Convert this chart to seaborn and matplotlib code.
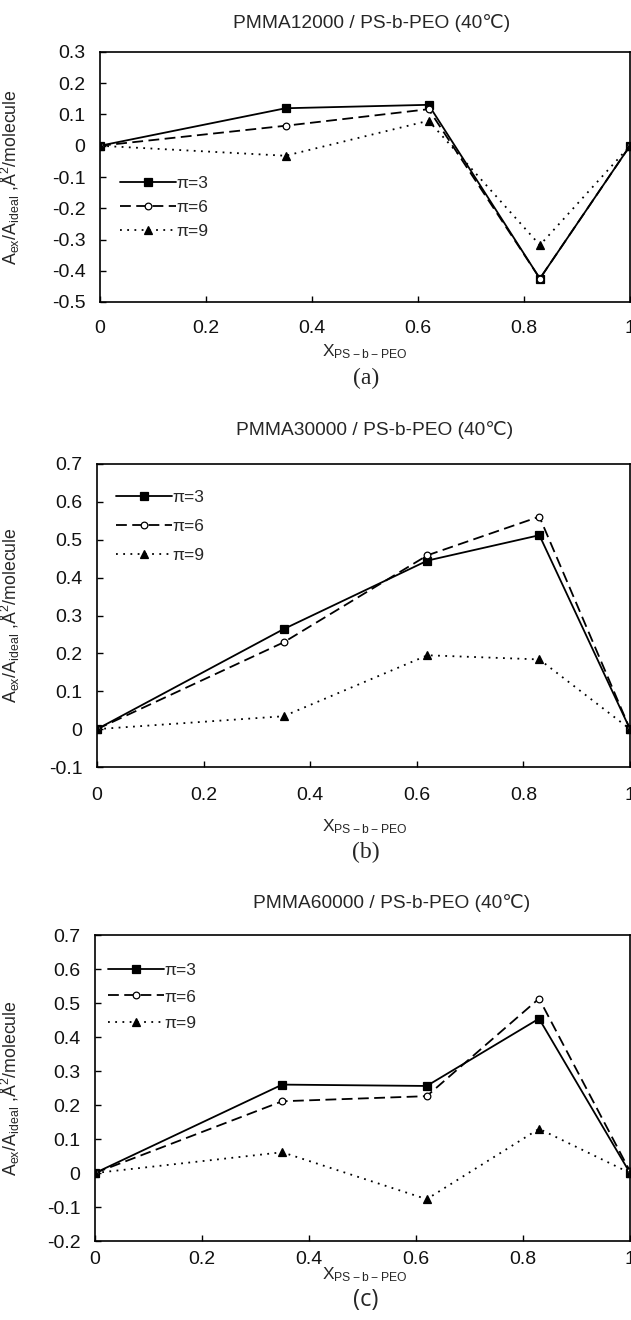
import numpy as np
import pandas as pd
import matplotlib
matplotlib.use("Agg")
import matplotlib.pyplot as plt
import seaborn as sns
from matplotlib.ticker import FuncFormatter, MultipleLocator

# mole fraction of PS-b-PEO
x_frac = [0, 0.35, 0.62, 0.83, 1.0]
pressures = ["π=3", "π=6", "π=9"]

# PMMA12000 / PS-b-PEO
a_pi3 = [0, 0.120, 0.131, -0.425, 0]
a_pi6 = [0, 0.064, 0.117, -0.425, 0]
a_pi9 = [0, -0.032, 0.080, -0.318, 0]

# PMMA30000 / PS-b-PEO
b_pi3 = [0, 0.264, 0.445, 0.512, 0]
b_pi6 = [0, 0.229, 0.459, 0.561, 0]
b_pi9 = [0, 0.034, 0.195, 0.184, 0]

# PMMA60000 / PS-b-PEO
c_pi3 = [0, 0.260, 0.256, 0.454, 0]
c_pi6 = [0, 0.211, 0.226, 0.513, 0.005]
c_pi9 = [0, 0.061, -0.077, 0.130, 0]

titles = ["PMMA12000 / PS-b-PEO (40℃)", "PMMA30000 / PS-b-PEO (40℃)",
          "PMMA60000 / PS-b-PEO (40℃)"]
tags = ["(a)", "(b)", "(c)"]

sns.set_style("ticks")
plt.rcParams["font.family"] = ["Liberation Sans", "DejaVu Sans"]
plt.rcParams["mathtext.default"] = "regular"
plt.rcParams["axes.unicode_minus"] = False

W, H = 631, 1320
fig = plt.figure(figsize=(W / 100, H / 100), dpi=100)


def px_axes(left, right, top, bottom):
    return fig.add_axes([left / W, 1 - bottom / H, (right - left) / W, (bottom - top) / H])


styles = [
    dict(marker="s", linestyle="-", markersize=5.5, markerfacecolor="black"),
    dict(marker="o", linestyle=(0, (6, 3)), markersize=4.8, markerfacecolor="white"),
    dict(marker="^", linestyle=(0, (1, 3)), markersize=6, markerfacecolor="black"),
]

panels = [
    dict(data=[a_pi3, a_pi6, a_pi9], box=(100, 630, 52, 302), ylim=(-0.5, 0.3),
         title_xy=(372, 23), xlab_y=352, tag_y=378, xpad=13,
         leg=(121, 181), lspace=0.5),
    dict(data=[b_pi3, b_pi6, b_pi9], box=(97, 630, 464, 767), ylim=(-0.1, 0.7),
         title_xy=(375, 430), xlab_y=827, tag_y=852, xpad=14.5,
         leg=(117, 495), lspace=0.8),
    dict(data=[c_pi3, c_pi6, c_pi9], box=(95, 630, 935, 1241), ylim=(-0.2, 0.7),
         title_xy=(392, 903), xlab_y=1275, tag_y=1300, xpad=7,
         leg=(109, 968), lspace=0.65),
]

for i, p in enumerate(panels):
    left, right, top, bottom = p["box"]
    ax = px_axes(left, right, top, bottom)
    for vals, lab, st in zip(p["data"], pressures, styles):
        df = pd.DataFrame({"x": x_frac, "y": vals})
        sns.lineplot(data=df, x="x", y="y", ax=ax, color="black", lw=1.3,
                     markeredgecolor="black", markeredgewidth=0.9, label=lab, **st)
    ax.set_xlim(0, 1)
    ax.set_ylim(*p["ylim"])
    ax.xaxis.set_major_locator(MultipleLocator(0.2))
    ax.yaxis.set_major_locator(MultipleLocator(0.1))
    fmt = FuncFormatter(lambda v, pos: "%g" % round(v, 2))
    ax.xaxis.set_major_formatter(fmt)
    ax.yaxis.set_major_formatter(fmt)
    ax.tick_params(axis="both", direction="in", length=4, width=1, labelsize=14,
                   color="black", labelcolor="#111111")
    ax.tick_params(axis="x", pad=p["xpad"])
    ax.tick_params(axis="y", pad=10.5)
    for s in ax.spines.values():
        s.set_linewidth(1.2)
        s.set_color("black")
    ax.set_xlabel("")
    ax.set_ylabel(r"$A_{ex}/A_{ideal}$ ,Å$^2$/molecule", fontsize=12.8)
    ax.yaxis.set_label_coords((22 - left) / (right - left), 0.5)

    lx, ly = p["leg"]
    ax.legend(loc="upper left", frameon=False, fontsize=12.5,
              bbox_to_anchor=((lx - left - 8) / (right - left), 1 - (ly - top - 12) / (bottom - top)),
              handlelength=3.2, handletextpad=0.05, labelspacing=p["lspace"],
              numpoints=1, borderaxespad=0)

    fig.text(p["title_xy"][0] / W, 1 - p["title_xy"][1] / H, titles[i],
             ha="center", va="center", fontsize=13.8)
    fig.text(365 / W, 1 - p["xlab_y"] / H, r"X$_{PS-b-PEO}$",
             ha="center", va="center", fontsize=12.5)
    tag_font = ["Liberation Serif", "DejaVu Serif"] if i < 2 else ["Open Sans", "DejaVu Sans"]
    fig.text(366 / W, 1 - p["tag_y"] / H, tags[i], ha="center", va="center",
             fontsize=17, family=tag_font)

fig.savefig("out.png", dpi=100)
